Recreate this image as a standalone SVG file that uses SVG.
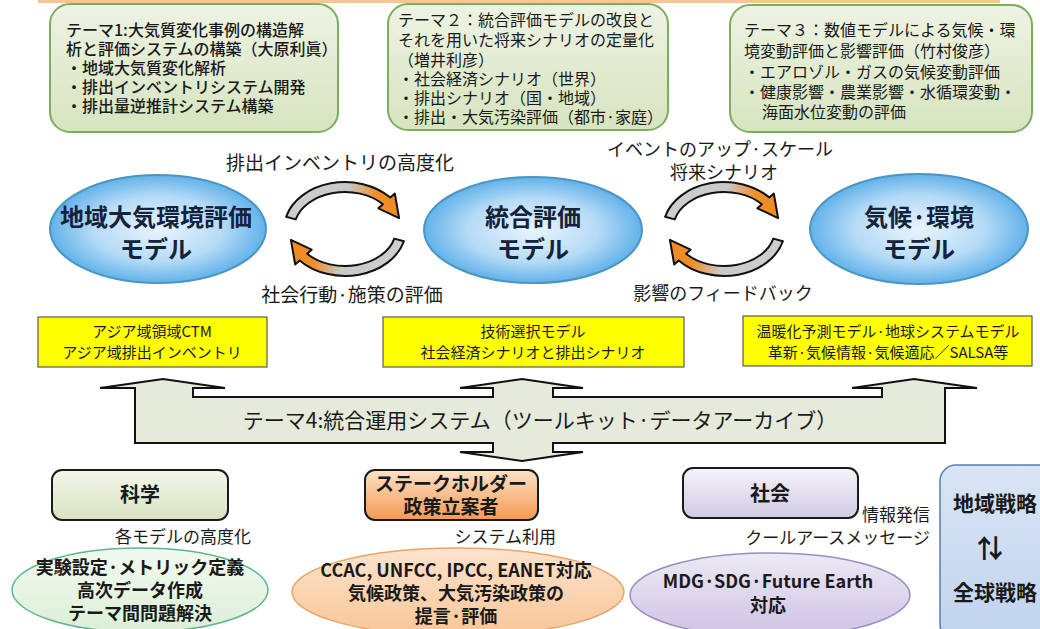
<svg xmlns="http://www.w3.org/2000/svg" width="1040" height="629" viewBox="0 0 1040 629">
<defs>
<linearGradient id="gTop" x1="0" y1="0" x2="0" y2="1"><stop offset="0" stop-color="#eef3e3"/><stop offset="1" stop-color="#d6e4bf"/></linearGradient>
<radialGradient id="gBlue" cx="0.5" cy="0.5" r="0.5"><stop offset="0" stop-color="#e9f4fd"/><stop offset="0.6" stop-color="#b5dbf6"/><stop offset="1" stop-color="#62b2ea"/></radialGradient>
<linearGradient id="gCyc" x1="0" y1="0" x2="1" y2="0"><stop offset="0" stop-color="#cfcfcf"/><stop offset="0.55" stop-color="#c9c9c9"/><stop offset="0.8" stop-color="#ef8f2c"/><stop offset="1" stop-color="#f08a20"/></linearGradient>
<linearGradient id="gSci" x1="0" y1="0" x2="0" y2="1"><stop offset="0" stop-color="#f3f6ea"/><stop offset="1" stop-color="#d8e3c2"/></linearGradient>
<linearGradient id="gStk" x1="0" y1="0" x2="0" y2="1"><stop offset="0" stop-color="#fde2c8"/><stop offset="1" stop-color="#f49a52"/></linearGradient>
<linearGradient id="gSoc" x1="0" y1="0" x2="0" y2="1"><stop offset="0" stop-color="#f5f3f9"/><stop offset="1" stop-color="#d2cbe4"/></linearGradient>
<linearGradient id="gGrE" x1="0" y1="0" x2="0" y2="1"><stop offset="0" stop-color="#f2faf0"/><stop offset="1" stop-color="#dcefd6"/></linearGradient>
<linearGradient id="gOrE" x1="0" y1="0" x2="0" y2="1"><stop offset="0" stop-color="#fde3cc"/><stop offset="1" stop-color="#f8c698"/></linearGradient>
<linearGradient id="gPuE" x1="0" y1="0" x2="0" y2="1"><stop offset="0" stop-color="#ede9f5"/><stop offset="1" stop-color="#cdc3e4"/></linearGradient>
<linearGradient id="gBlB" x1="0" y1="0" x2="0" y2="1"><stop offset="0" stop-color="#d9e5f5"/><stop offset="1" stop-color="#c0d3ee"/></linearGradient>
<path id="cyc" d="M286.1,216.8 A61,47 0 0 1 390.3,197.6 L394.8,193.5 L399.1,218.1 L378.4,208.3 L382.9,204.2 A51,37 0 0 0 295.7,219.4 Z"/>
</defs>
<style>
text{font-family:"Noto Sans CJK JP","Liberation Sans",sans-serif;fill:#1a1a1a}
.tb{fill:url(#gTop);stroke:#7dae5f;stroke-width:2}
.tt{font-size:16px}
.t1{font-size:16px;font-weight:500}
.be{fill:url(#gBlue);stroke:#4a96c0;stroke-width:2}
.bt{font-size:24px;font-weight:bold;text-anchor:middle;fill:#15223c}
.lab{font-size:19px;text-anchor:middle}
.yb{fill:#ffff00;stroke:#5a5a5a;stroke-width:1.2}
.yt{font-size:15px;text-anchor:middle}
.cy{fill:url(#gCyc);stroke:#111;stroke-width:2;stroke-linejoin:round}
.bx{stroke:#1a1a1a;stroke-width:2}
.bxt{font-weight:bold;text-anchor:middle}
.sm{font-size:17px;text-anchor:end}
.et{font-size:18px;font-weight:bold;text-anchor:middle}
</style>
<rect x="38" y="0" width="962" height="3" fill="#f9c593"/>

<g id="theme1">
<rect class="tb" x="50" y="4" width="288" height="128" rx="20"/>
<text class="t1" x="66" y="36">テーマ1:大気質変化事例の構造解</text>
<text class="t1" x="66" y="55">析と評価システムの構築（大原利眞）</text>
<text class="t1" x="66" y="74">・地域大気質変化解析</text>
<text class="t1" x="66" y="93">・排出インベントリシステム開発</text>
<text class="t1" x="66" y="112">・排出量逆推計システム構築</text>
</g>
<g id="theme2">
<rect class="tb" x="388" y="4" width="280" height="126" rx="20"/>
<text class="tt" x="398" y="26">テーマ２：統合評価モデルの改良と</text>
<text class="tt" x="398" y="46">それを用いた将来シナリオの定量化</text>
<text class="tt" x="398" y="66">（増井利彦）</text>
<text class="tt" x="398" y="85">・社会経済シナリオ（世界）</text>
<text class="tt" x="398" y="104">・排出シナリオ（国・地域）</text>
<text class="tt" x="398" y="123">・排出・大気汚染評価（都市·家庭）</text>
</g>
<g id="theme3">
<rect class="tb" x="730" y="5" width="302" height="127" rx="20"/>
<text class="tt" x="744" y="36">テーマ３：数値モデルによる気候・環</text>
<text class="tt" x="744" y="57">境変動評価と影響評価（竹村俊彦）</text>
<text class="tt" x="744" y="78">・エアロゾル・ガスの気候変動評価</text>
<text class="tt" x="744" y="98">・健康影響・農業影響・水循環変動・</text>
<text class="tt" x="762" y="118">海面水位変動の評価</text>
</g>

<g id="model-regional">
<ellipse class="be" cx="158" cy="229" rx="108" ry="54"/>
<text class="bt" x="156" y="226">地域大気環境評価</text>
<text class="bt" x="156" y="258">モデル</text>
</g>
<g id="model-integrated">
<ellipse class="be" cx="533" cy="230" rx="109" ry="53"/>
<text class="bt" x="533" y="226">統合評価</text>
<text class="bt" x="533" y="258">モデル</text>
</g>
<g id="model-climate">
<ellipse class="be" cx="919" cy="229" rx="109" ry="55"/>
<text class="bt" x="919" y="226">気候·環境</text>
<text class="bt" x="919" y="258">モデル</text>
</g>

<g id="connectors">
<use href="#cyc" class="cy"/>
<use href="#cyc" class="cy" transform="rotate(180 345 229)"/>
<use href="#cyc" class="cy" transform="translate(379 0)"/>
<use href="#cyc" class="cy" transform="translate(379 0) rotate(180 345 229)"/>
<path d="M135,443 L135,388 L100,388 L163,379 L225,388 L193,388 L193,397 L493,397 L493,388 L460,388 L522,379 L583,388 L553,388 L553,397 L882,397 L882,388 L852,388 L914,379 L977,388 L945,388 L945,443 L553,443 L553,452 L583,452 L522,461 L460,452 L493,452 L493,443 Z" fill="#e6eadb" stroke="#111" stroke-width="2" stroke-linejoin="miter"/>
</g>
<text class="lab" x="340" y="170">排出インベントリの高度化</text>
<text class="lab" x="352" y="302">社会行動·施策の評価</text>
<text class="lab" x="720" y="156" style="font-size:18px">イベントのアップ·スケール</text>
<text class="lab" x="724" y="179" style="font-size:18px">将来シナリオ</text>
<text class="lab" x="723" y="300" style="font-size:18px">影響のフィードバック</text>

<g id="tool-asia">
<rect class="yb" x="38" y="317" width="229" height="50"/>
<text class="yt" x="152" y="337">アジア域領域CTM</text>
<text class="yt" x="152" y="358">アジア域排出インベントリ</text>
</g>
<g id="tool-tech">
<rect class="yb" x="383" y="317" width="301" height="50"/>
<text class="yt" x="533" y="337">技術選択モデル</text>
<text class="yt" x="533" y="358">社会経済シナリオと排出シナリオ</text>
</g>
<g id="tool-climate">
<rect class="yb" x="743" y="316" width="289" height="50"/>
<text class="yt" x="888" y="337">温暖化予測モデル·地球システムモデル</text>
<text class="yt" x="888" y="358">革新·気候情報·気候適応／SALSA等</text>
</g>

<g id="theme4">
<text x="540" y="428" style="font-size:21px;text-anchor:middle">テーマ4:統合運用システム（ツールキット·データアーカイブ）</text>
</g>

<g id="science">
<rect class="bx" x="52" y="470" width="176" height="50" rx="10" fill="url(#gSci)"/>
<text class="bxt" x="140" y="502" style="font-size:20px">科学</text>
</g>
<text class="sm" x="251" y="543">各モデルの高度化</text>
<g id="science-ellipse">
<ellipse cx="140" cy="590" rx="128" ry="42" fill="url(#gGrE)" stroke="#5cb58f" stroke-width="1.5"/>
<text class="et" x="140" y="574">実験設定·メトリック定義</text>
<text class="et" x="140" y="597">高次データ作成</text>
<text class="et" x="140" y="620">テーマ間問題解決</text>
</g>

<g id="stakeholder">
<rect class="bx" x="365" y="470" width="173" height="50" rx="10" fill="url(#gStk)"/>
<text class="bxt" x="451" y="491" style="font-size:19px">ステークホルダー</text>
<text class="bxt" x="451" y="514" style="font-size:19px">政策立案者</text>
</g>
<text class="sm" x="556" y="543">システム利用</text>
<g id="stakeholder-ellipse">
<ellipse cx="458" cy="592" rx="166" ry="44" fill="url(#gOrE)" stroke="#e9a46a" stroke-width="1.5"/>
<text class="et" x="456" y="577">CCAC, UNFCC, IPCC, EANET対応</text>
<text class="et" x="456" y="600">気候政策、大気汚染政策の</text>
<text class="et" x="456" y="623">提言·評価</text>
</g>

<g id="society">
<rect class="bx" x="683" y="468" width="175" height="50" rx="10" fill="url(#gSoc)"/>
<text class="bxt" x="770" y="501" style="font-size:20px">社会</text>
</g>
<text class="sm" x="930" y="521">情報発信</text>
<text class="sm" x="930" y="544">クールアースメッセージ</text>
<g id="society-ellipse">
<ellipse cx="770" cy="595" rx="140" ry="42" fill="url(#gPuE)" stroke="#9a8cc4" stroke-width="1.5"/>
<text class="et" x="768" y="588">MDG·SDG·Future Earth</text>
<text class="et" x="768" y="612">対応</text>
</g>

<g id="strategy">
<rect x="940" y="465" width="120" height="175" rx="16" fill="url(#gBlB)" stroke="#5a7cb0" stroke-width="1.5"/>
<text class="bxt" x="995" y="511" style="font-size:21px">地域戦略</text>
<text class="bxt" x="990" y="558" style="font-size:26px">⇅</text>
<text class="bxt" x="995" y="600" style="font-size:21px">全球戦略</text>
</g>
</svg>
